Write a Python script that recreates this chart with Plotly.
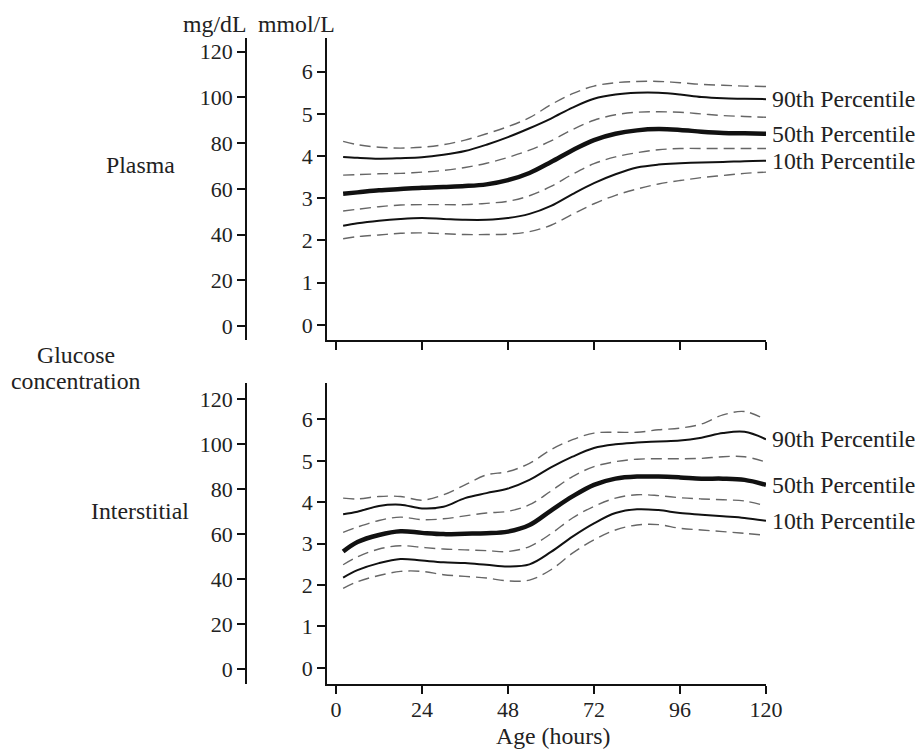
import plotly.graph_objects as go

# ---------------- data (mmol/L) ----------------
hours = [2, 6, 12, 18, 24, 30, 36, 42, 48, 54, 60, 66, 72, 78, 84, 90, 96, 102, 108, 114, 120]

plasma_p90_hi = [4.35, 4.27, 4.21, 4.19, 4.21, 4.27, 4.38, 4.53, 4.70, 4.91, 5.22, 5.48, 5.66, 5.74, 5.77, 5.77, 5.74, 5.70, 5.68, 5.66, 5.65]
plasma_p90 = [3.98, 3.96, 3.94, 3.95, 3.97, 4.03, 4.12, 4.27, 4.45, 4.66, 4.89, 5.15, 5.36, 5.46, 5.50, 5.50, 5.46, 5.40, 5.37, 5.36, 5.35]
plasma_p90_lo = [3.55, 3.56, 3.58, 3.59, 3.62, 3.66, 3.73, 3.83, 3.97, 4.14, 4.36, 4.63, 4.85, 4.98, 5.04, 5.05, 5.04, 5.00, 4.96, 4.94, 4.92]
plasma_p50 = [3.11, 3.14, 3.19, 3.22, 3.25, 3.27, 3.29, 3.33, 3.43, 3.60, 3.86, 4.14, 4.38, 4.53, 4.61, 4.64, 4.62, 4.58, 4.55, 4.54, 4.53]
plasma_p10_hi = [2.70, 2.74, 2.80, 2.84, 2.85, 2.85, 2.85, 2.88, 2.93, 3.06, 3.28, 3.57, 3.82, 3.98, 4.08, 4.15, 4.18, 4.18, 4.18, 4.18, 4.18]
plasma_p10 = [2.35, 2.41, 2.47, 2.51, 2.53, 2.51, 2.49, 2.49, 2.53, 2.63, 2.82, 3.10, 3.36, 3.57, 3.73, 3.80, 3.83, 3.85, 3.86, 3.88, 3.89]
plasma_p10_lo = [2.04, 2.09, 2.13, 2.17, 2.18, 2.16, 2.14, 2.14, 2.15, 2.21, 2.36, 2.62, 2.87, 3.07, 3.22, 3.34, 3.42, 3.49, 3.54, 3.59, 3.62]

inter_p90_hi = [4.10, 4.08, 4.14, 4.14, 4.05, 4.18, 4.42, 4.66, 4.74, 4.94, 5.27, 5.51, 5.67, 5.69, 5.69, 5.75, 5.79, 5.89, 6.11, 6.19, 5.99]
inter_p90 = [3.71, 3.77, 3.91, 3.94, 3.85, 3.89, 4.10, 4.22, 4.33, 4.54, 4.84, 5.10, 5.31, 5.40, 5.44, 5.47, 5.49, 5.56, 5.67, 5.70, 5.52]
inter_p90_lo = [3.27, 3.40, 3.56, 3.64, 3.58, 3.60, 3.67, 3.74, 3.78, 3.94, 4.27, 4.62, 4.86, 4.98, 5.04, 5.05, 5.05, 5.06, 5.10, 5.10, 4.97]
inter_p50 = [2.81, 3.04, 3.21, 3.30, 3.26, 3.23, 3.24, 3.25, 3.29, 3.45, 3.80, 4.14, 4.42, 4.57, 4.62, 4.62, 4.60, 4.57, 4.57, 4.54, 4.42]
inter_p10_hi = [2.49, 2.68, 2.87, 2.95, 2.91, 2.87, 2.85, 2.83, 2.81, 2.93, 3.24, 3.62, 3.90, 4.10, 4.18, 4.16, 4.11, 4.08, 4.06, 4.03, 3.91]
inter_p10 = [2.18, 2.36, 2.53, 2.63, 2.59, 2.55, 2.53, 2.49, 2.45, 2.50, 2.80, 3.17, 3.49, 3.74, 3.83, 3.81, 3.74, 3.70, 3.66, 3.62, 3.55]
inter_p10_lo = [1.92, 2.08, 2.23, 2.33, 2.33, 2.25, 2.21, 2.17, 2.10, 2.12, 2.37, 2.77, 3.09, 3.33, 3.45, 3.46, 3.37, 3.33, 3.29, 3.25, 3.20]

x_ticks = [0, 24, 48, 72, 96, 120]
mmol_ticks = [0, 1, 2, 3, 4, 5, 6]
mgdl_ticks = [0, 20, 40, 60, 80, 100, 120]
percentile_labels = ["90th Percentile", "50th Percentile", "10th Percentile"]

# ---------------- figure ----------------
W, H = 921, 749
FONT = "Liberation Serif, Times New Roman, serif"
TXT = "#222222"
SOLID = "#111111"
DASH = "#666666"
LBL = 23.8

fig = go.Figure()

def add_panel(xa, ya, series):
    hi90, p90, lo90, p50, hi10, p10, lo10 = series
    for ys in (hi90, lo90, hi10, lo10):
        fig.add_trace(go.Scatter(x=hours, y=ys, mode="lines", xaxis=xa, yaxis=ya,
                                 line=dict(color=DASH, width=1.4, dash="11px,6px", shape="spline", smoothing=1.0),
                                 showlegend=False, hoverinfo="skip"))
    for ys in (p90, p10):
        fig.add_trace(go.Scatter(x=hours, y=ys, mode="lines", xaxis=xa, yaxis=ya,
                                 line=dict(color=SOLID, width=2, shape="spline", smoothing=1.0),
                                 showlegend=False, hoverinfo="skip"))
    fig.add_trace(go.Scatter(x=hours, y=p50, mode="lines", xaxis=xa, yaxis=ya,
                             line=dict(color=SOLID, width=4.5, shape="spline", smoothing=1.0),
                             showlegend=False, hoverinfo="skip"))
    for lab, ys in zip(percentile_labels, (p90, p50, p10)):
        fig.add_annotation(x=hours[-1], y=ys[-1], xref=xa, yref=ya, text=lab, showarrow=False,
                           xanchor="left", yanchor="middle", xshift=4,
                           font=dict(family=FONT, size=LBL, color=TXT))

add_panel("x", "y", (plasma_p90_hi, plasma_p90, plasma_p90_lo, plasma_p50, plasma_p10_hi, plasma_p10, plasma_p10_lo))
add_panel("x2", "y2", (inter_p90_hi, inter_p90, inter_p90_lo, inter_p50, inter_p10_hi, inter_p10, inter_p10_lo))

# empty traces to bind the mg/dL axes
fig.add_trace(go.Scatter(x=[None], y=[None], xaxis="x", yaxis="y3", showlegend=False, hoverinfo="skip"))
fig.add_trace(go.Scatter(x=[None], y=[None], xaxis="x2", yaxis="y4", showlegend=False, hoverinfo="skip"))

xdom = [327 / W, 766 / W]
top_dom = [1 - 340 / H, 1 - 38 / H]
bot_dom = [1 - 684 / H, 1 - 383 / H]

common = dict(showgrid=False, zeroline=False, showline=True, linecolor=SOLID, linewidth=1.5,
              ticks="outside", ticklen=8, tickwidth=1.5, tickcolor=SOLID,
              tickfont=dict(family=FONT, size=22, color=TXT), automargin=False, fixedrange=True)

fig.update_layout(
    width=W, height=H,
    margin=dict(l=0, r=0, t=0, b=0),
    paper_bgcolor="white", plot_bgcolor="white",
    xaxis=dict(domain=xdom, anchor="y", range=[-2.5, 120], tickvals=x_ticks, showticklabels=False, **common),
    yaxis=dict(domain=top_dom, anchor="x", range=[-0.36, 6.8], tickvals=mmol_ticks, **common),
    xaxis2=dict(domain=xdom, anchor="y2", range=[-2.5, 120], tickvals=x_ticks,
                ticklabelstandoff=-3, **common),
    yaxis2=dict(domain=bot_dom, anchor="x2", range=[-0.39, 6.88], tickvals=mmol_ticks, **common),
    yaxis3=dict(overlaying="y", anchor="free", position=246 / W, side="left",
                range=[-6.1, 126], tickvals=mgdl_ticks, **common),
    yaxis4=dict(overlaying="y2", anchor="free", position=246 / W, side="left",
                range=[-6.7, 127.1], tickvals=mgdl_ticks, **common),
)

def label(text, px, py, anchor="center"):
    fig.add_annotation(x=px / W, y=1 - py / H, xref="paper", yref="paper", text=text,
                       showarrow=False, xanchor=anchor, yanchor="middle", borderpad=0,
                       font=dict(family=FONT, size=LBL, color=TXT))

label("mg/dL", 214, 24)
label("mmol/L", 296, 24)
label("Plasma", 140, 165)
label("Glucose", 76, 355)
label("concentration", 76, 381)
label("Interstitial", 140, 511)
label("Age (hours)", 553, 736)

fig.write_html("out.html", config={"displayModeBar": False},
               post_script="document.body.style.margin='0px';document.body.style.overflow='hidden';")
